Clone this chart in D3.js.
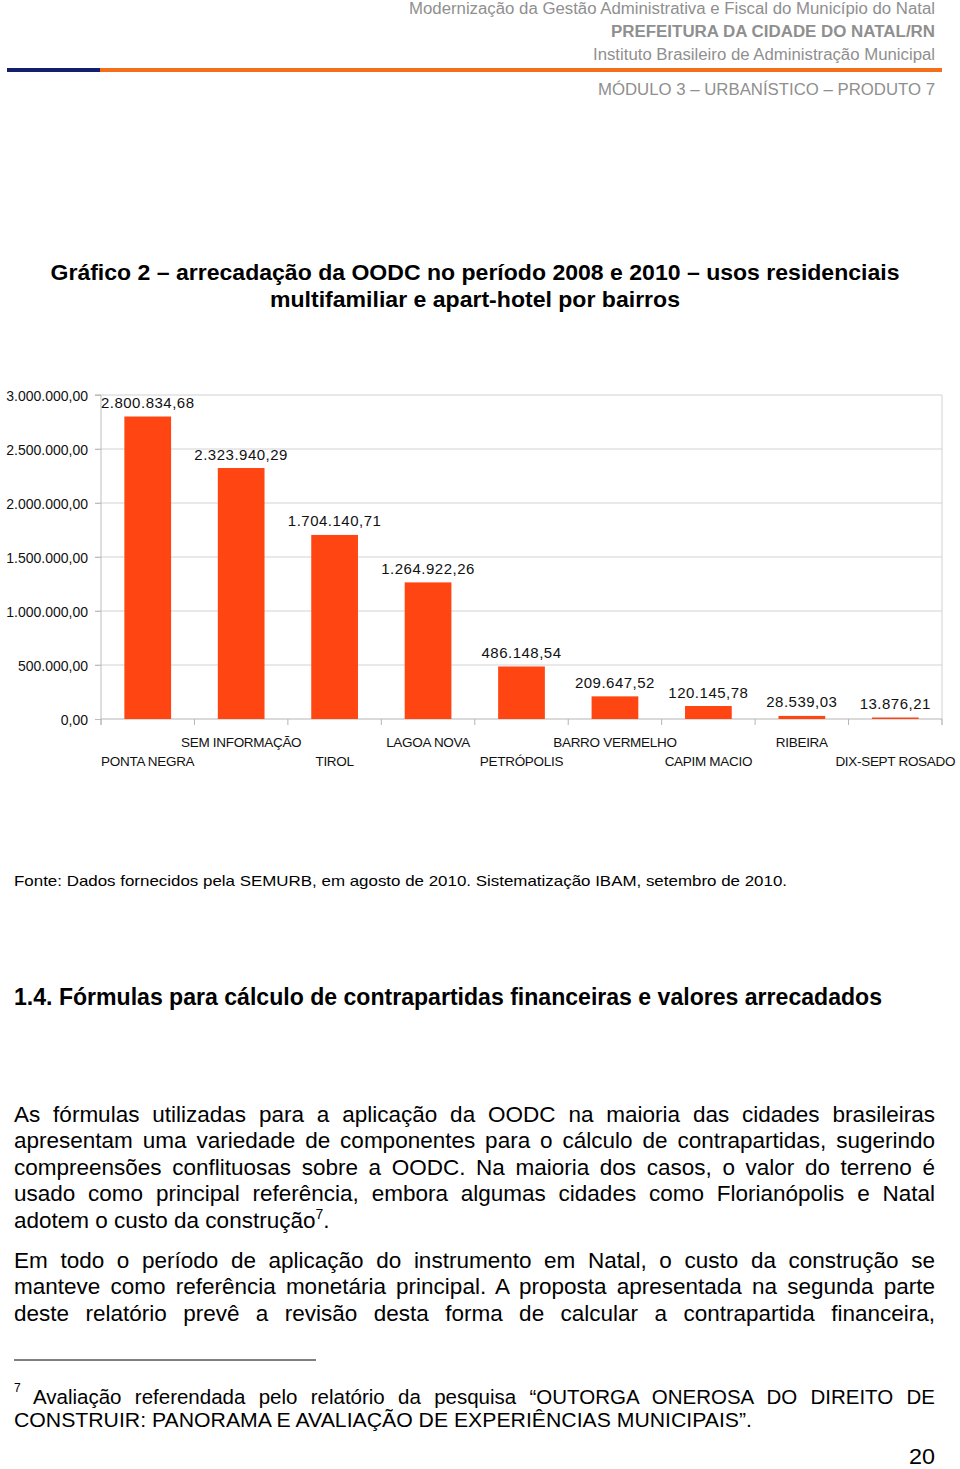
<!DOCTYPE html>
<html><head><meta charset="utf-8">
<script src="https://cdn.jsdelivr.net/npm/d3@7"></script>
<style>body{margin:0;background:#fff}svg{display:block}</style>
</head><body><script>
// ---------- DATA ----------
const categories = ["PONTA NEGRA","SEM INFORMAÇÃO","TIROL","LAGOA NOVA","PETRÓPOLIS","BARRO VERMELHO","CAPIM MACIO","RIBEIRA","DIX-SEPT ROSADO"];
const values = [2800834.68,2323940.29,1704140.71,1264922.26,486148.54,209647.52,120145.78,28539.03,13876.21];
const yTicks = [0,500000,1000000,1500000,2000000,2500000,3000000];

const headerLines = [
  "Modernização da Gestão Administrativa e Fiscal do Município do Natal",
  "PREFEITURA DA CIDADE DO NATAL/RN",
  "Instituto Brasileiro de Administração Municipal",
  "MÓDULO 3 – URBANÍSTICO – PRODUTO 7"
];
const titleLines = ["Gráfico 2 – arrecadação da OODC no período 2008 e 2010 – usos residenciais","multifamiliar e apart-hotel por bairros"];
const sourceText = "Fonte: Dados fornecidos pela SEMURB, em agosto de 2010. Sistematização IBAM, setembro de 2010.";
const headingText = "1.4. Fórmulas para cálculo de contrapartidas financeiras e valores arrecadados";
const para1 = [
  "As fórmulas utilizadas para a aplicação da OODC na maioria das cidades brasileiras",
  "apresentam uma variedade de componentes para o cálculo de contrapartidas, sugerindo",
  "compreensões conflituosas sobre a OODC. Na maioria dos casos, o valor do terreno é",
  "usado como principal referência, embora algumas cidades como Florianópolis e Natal"
];
const para1Last = "adotem o custo da construção";
const para2 = [
  "Em todo o período de aplicação do instrumento em Natal, o custo da construção se",
  "manteve como referência monetária principal. A proposta apresentada na segunda parte",
  "deste relatório prevê a revisão desta forma de calcular a contrapartida financeira,"
];
const footLines = [
  "Avaliação referendada pelo relatório da pesquisa “OUTORGA ONEROSA DO DIREITO DE",
  "CONSTRUIR: PANORAMA E AVALIAÇÃO DE EXPERIÊNCIAS MUNICIPAIS”."
];

// ---------- SETUP ----------
const W = 960, H = 1469;
const SANS = "'Liberation Sans', Arial, Helvetica, sans-serif";
const svg = d3.select("body").append("svg").attr("width", W).attr("height", H);

function fitText(sel, width){
  sel.attr("textLength", width).attr("lengthAdjust", "spacingAndGlyphs");
}
function justify(sel, width){
  const w = sel.node().getComputedTextLength();
  const n = (sel.text().match(/ /g) || []).length;
  if (n > 0) sel.attr("word-spacing", (width - w) / n);
}

// ---------- HEADER ----------
const grey = "#8f8f8f";
const hdr = [
  {t: headerLines[0], y: 14, w: 526, b: "normal"},
  {t: headerLines[1], y: 36.5, w: 324, b: "bold"},
  {t: headerLines[2], y: 59.5, w: 342, b: "normal"},
  {t: headerLines[3], y: 94.5, w: 337, b: "normal"}
];
hdr.forEach(h => {
  const s = svg.append("text").attr("x", 935).attr("y", h.y).attr("text-anchor", "end")
    .attr("font-family", SANS).attr("font-size", 16).attr("font-weight", h.b).attr("fill", grey).text(h.t);
  fitText(s, h.w);
});
svg.append("rect").attr("x", 7).attr("y", 68).attr("width", 93).attr("height", 4).attr("fill", "#131f6b");
svg.append("rect").attr("x", 100).attr("y", 68).attr("width", 842).attr("height", 4).attr("fill", "#f36f1c");

// ---------- TITLE ----------
[{t: titleLines[0], y: 280, w: 849}, {t: titleLines[1], y: 307, w: 410}].forEach(d => {
  const s = svg.append("text").attr("x", 475).attr("y", d.y).attr("text-anchor", "middle")
    .attr("font-family", SANS).attr("font-size", 22).attr("font-weight", "bold").attr("fill", "#000").text(d.t);
  fitText(s, d.w);
});

// ---------- CHART ----------
const plotL = 101, plotR = 942, plotT = 395, plotB = 719;
const y = d3.scaleLinear().domain([0, 3000000]).range([plotB, plotT]);
const x = d3.scaleBand().domain(categories).range([plotL, plotR]).paddingInner(0.5).paddingOuter(0.25);
const xb = d3.scaleBand().domain(categories).range([plotL, plotR]).padding(0);
const fmt = d3.formatLocale({decimal: ",", thousands: ".", grouping: [3], currency: ["R$", ""]}).format(",.2f");

const chart = svg.append("g");
chart.selectAll("line.grid").data(yTicks.filter(t => t > 0)).join("line").attr("class", "grid")
  .attr("x1", plotL - 6).attr("x2", plotR).attr("y1", d => y(d)).attr("y2", d => y(d))
  .attr("stroke", "#d2d2d2").attr("stroke-width", 1);
const yAxis = d3.axisLeft(y).tickValues(yTicks).tickSize(6).tickPadding(7).tickFormat(fmt);
const yg = chart.append("g").attr("transform", `translate(${plotL},0)`).call(yAxis);
yg.select(".domain").attr("stroke", "#bdbdbd").attr("d", `M-6,${plotT}H0V${plotB + 6}`);
yg.selectAll(".tick line").attr("stroke", "#bdbdbd");
yg.selectAll(".tick text").attr("font-family", SANS).attr("font-size", 14).attr("fill", "#111").attr("dy", "0.4em");
chart.append("line").attr("x1", plotR).attr("x2", plotR).attr("y1", plotT).attr("y2", plotB + 6).attr("stroke", "#d2d2d2");
chart.append("line").attr("x1", plotL).attr("x2", plotR).attr("y1", plotB).attr("y2", plotB).attr("stroke", "#b5b5b5");
const bounds = categories.map(c => xb(c)).concat([plotR]);
chart.selectAll("line.xt").data(bounds).join("line").attr("class", "xt")
  .attr("x1", d => d).attr("x2", d => d).attr("y1", plotB).attr("y2", plotB + 6).attr("stroke", "#b5b5b5");
chart.selectAll("rect.bar").data(values).join("rect").attr("class", "bar")
  .attr("x", (d, i) => x(categories[i])).attr("width", x.bandwidth())
  .attr("y", d => y(d)).attr("height", d => plotB - y(d)).attr("fill", "#ff4512");
chart.selectAll("text.val").data(values).join("text").attr("class", "val")
  .attr("x", (d, i) => x(categories[i]) + x.bandwidth() / 2).attr("y", d => y(d) - 8.5)
  .attr("text-anchor", "middle").attr("font-family", SANS).attr("font-size", 15).attr("letter-spacing", 0.5)
  .attr("fill", "#111").text(d => fmt(d));
chart.selectAll("text.cat").data(categories).join("text").attr("class", "cat")
  .attr("x", d => x(d) + x.bandwidth() / 2).attr("y", (d, i) => i % 2 === 0 ? 765.5 : 746.5)
  .attr("text-anchor", "middle").attr("font-family", SANS).attr("font-size", 13.5).attr("letter-spacing", -0.3)
  .attr("fill", "#111").text(d => d);

// ---------- SOURCE ----------
const src = svg.append("text").attr("x", 14).attr("y", 886).attr("font-family", SANS).attr("font-size", 15)
  .attr("fill", "#000").text(sourceText);
fitText(src, 773);

// ---------- HEADING ----------
const hd = svg.append("text").attr("x", 14).attr("y", 1005).attr("font-family", SANS).attr("font-size", 23)
  .attr("font-weight", "bold").attr("fill", "#000").text(headingText);
fitText(hd, 868);

// ---------- PARAGRAPH 1 ----------
para1.forEach((l, i) => {
  const s = svg.append("text").attr("x", 14).attr("y", 1121.5 + i * 26.5).attr("font-family", SANS)
    .attr("font-size", 22.5).attr("fill", "#000").text(l);
  justify(s, 921);
});
const last = svg.append("text").attr("x", 14).attr("y", 1121.5 + 4 * 26.5).attr("font-family", SANS)
  .attr("font-size", 22.5).attr("fill", "#000");
last.append("tspan").text(para1Last);
last.append("tspan").attr("font-size", 14).attr("dy", -9).text("7");
last.append("tspan").attr("dy", 9).text(".");

// ---------- PARAGRAPH 2 ----------
para2.forEach((l, i) => {
  const s = svg.append("text").attr("x", 14).attr("y", 1267.5 + i * 26.5).attr("font-family", SANS)
    .attr("font-size", 22.5).attr("fill", "#000").text(l);
  justify(s, 921);
});

// ---------- FOOTNOTE ----------
svg.append("line").attr("x1", 14).attr("x2", 316).attr("y1", 1360).attr("y2", 1360).attr("stroke", "#000").attr("stroke-width", 1);
svg.append("text").attr("x", 14).attr("y", 1392).attr("font-family", SANS).attr("font-size", 12).attr("fill", "#000").text("7");
const f1 = svg.append("text").attr("x", 33).attr("y", 1403.5).attr("font-family", SANS).attr("font-size", 20.5)
  .attr("fill", "#000").text(footLines[0]);
justify(f1, 902);
const f2 = svg.append("text").attr("x", 14).attr("y", 1426.5).attr("font-family", SANS).attr("font-size", 20.5)
  .attr("fill", "#000").text(footLines[1]);
fitText(f2, 738);

// ---------- PAGE NUMBER ----------
const pn = svg.append("text").attr("x", 935).attr("y", 1464).attr("text-anchor", "end").attr("font-family", SANS)
  .attr("font-size", 22).attr("fill", "#000").text("20");
fitText(pn, 26);
</script></body></html>
